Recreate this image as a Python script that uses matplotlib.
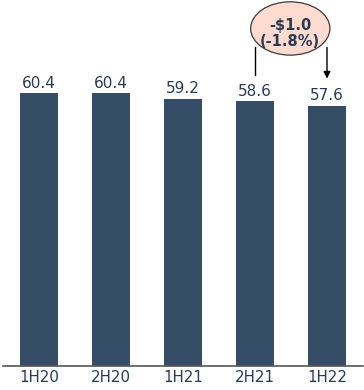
import matplotlib.pyplot as plt
from matplotlib.patches import Ellipse

periods = ['1H20', '2H20', '1H21', '2H21', '1H22']
values = [60.4, 60.4, 59.2, 58.6, 57.6]
change_text = '-\\$1.0\n(-1.8%)'

bar_color = '#354d67'
text_color = '#2b3a52'

fig = plt.figure(figsize=(3.64, 3.9), dpi=100)
ax = fig.add_axes([3 / 364, 24 / 390, 360 / 364, 366 / 390])

x = list(range(len(values)))
ax.bar(x, values, width=0.53, color=bar_color)
for i, v in zip(x, values):
    ax.text(i, v + 0.5, f'{v:.1f}', ha='center', va='bottom',
            fontsize=11, color=text_color)

ax.set_xlim(-0.5, 4.5)
ax.set_ylim(0, 81)
ax.set_xticks(x)
ax.set_xticklabels(periods, fontsize=10.8, color=text_color)
ax.tick_params(axis='x', length=0, pad=3)
ax.set_yticks([])
for side in ['top', 'right', 'left']:
    ax.spines[side].set_visible(False)
ax.spines['bottom'].set_color('#555555')
ax.spines['bottom'].set_linewidth(1.2)

# change callout between the last two periods
ax.plot([3, 3], [70.5, values[3] + 5.8], color='black', lw=1)
ax.annotate('', xy=(4, values[4] + 6.0), xytext=(4, 70.5),
            arrowprops=dict(arrowstyle='-|>', color='black', lw=1,
                            mutation_scale=10, shrinkA=0, shrinkB=0))
ell = Ellipse((3.49, 74.7), 1.1, 11.8, facecolor='#fddccf',
              edgecolor='#3a3a3a', lw=0.9, clip_on=False, zorder=3)
ax.add_patch(ell)
ax.text(3.49, 73.5, change_text, ha='center', va='center', fontsize=10.5,
        fontweight='bold', color=text_color, linespacing=1.1, zorder=4)

fig.savefig('out.png', dpi=100)
